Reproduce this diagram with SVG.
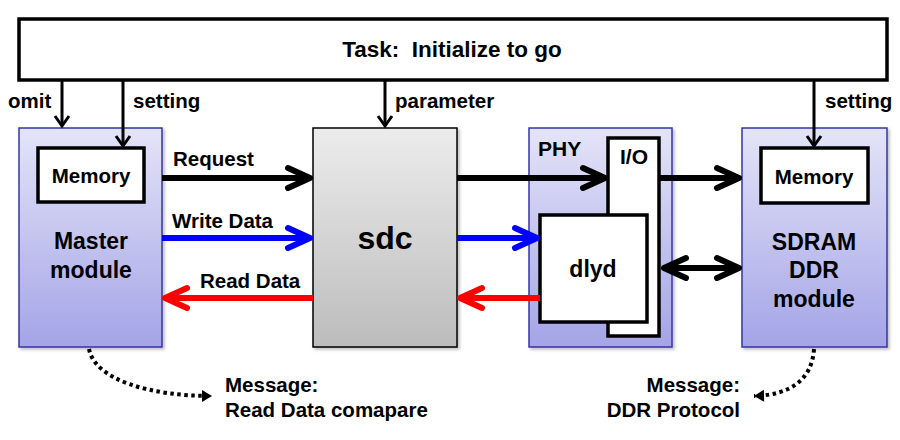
<svg xmlns="http://www.w3.org/2000/svg" width="900" height="440" viewBox="0 0 900 440">
<defs>
<linearGradient id="gBlue" x1="0" y1="0" x2="0" y2="1">
<stop offset="0" stop-color="#e4e4f8"/>
<stop offset="1" stop-color="#a4a4e7"/>
</linearGradient>
<linearGradient id="gGray" x1="0" y1="0" x2="0" y2="1">
<stop offset="0" stop-color="#ececec"/>
<stop offset="1" stop-color="#bcbcbc"/>
</linearGradient>
<filter id="sh" x="-10%" y="-10%" width="130%" height="130%">
<feDropShadow dx="2" dy="2" stdDeviation="1.5" flood-color="#000" flood-opacity="0.25"/>
</filter>
<marker id="vThin" markerUnits="userSpaceOnUse" viewBox="-14 -10 18 20" refX="0" refY="0" markerWidth="18" markerHeight="20" orient="auto" overflow="visible">
<path d="M-10,-7 L0,0 L-10,7" fill="none" stroke="#000" stroke-width="3"/>
</marker>
<marker id="vBlack" markerUnits="userSpaceOnUse" viewBox="-30 -15 36 30" refX="0" refY="0" markerWidth="36" markerHeight="30" orient="auto-start-reverse" overflow="visible">
<path d="M-22,-10 L0,0 L-22,10" fill="none" stroke="#000" stroke-width="6" stroke-linecap="round" stroke-linejoin="round"/>
</marker>
<marker id="vBlue" markerUnits="userSpaceOnUse" viewBox="-30 -15 36 30" refX="0" refY="0" markerWidth="36" markerHeight="30" orient="auto" overflow="visible">
<path d="M-22,-10 L0,0 L-22,10" fill="none" stroke="#0000ff" stroke-width="6" stroke-linecap="round" stroke-linejoin="round"/>
</marker>
<marker id="vRed" markerUnits="userSpaceOnUse" viewBox="-30 -15 36 30" refX="0" refY="0" markerWidth="36" markerHeight="30" orient="auto" overflow="visible">
<path d="M-22,-10 L0,0 L-22,10" fill="none" stroke="#ff0000" stroke-width="6" stroke-linecap="round" stroke-linejoin="round"/>
</marker>
<marker id="tri" markerUnits="userSpaceOnUse" viewBox="-12 -8 14 16" refX="0" refY="0" markerWidth="14" markerHeight="16" orient="auto" overflow="visible">
<path d="M-10,-6 L0,0 L-10,6 Z" fill="#000"/>
</marker>
</defs>
<style>
text{font-family:"Liberation Sans",Arial,sans-serif;font-weight:bold;fill:#000}
.lbl{font-size:20.5px}
.big{font-size:23px;text-anchor:middle}
.mod{fill:url(#gBlue);stroke:#3434a6;stroke-width:1.5;filter:url(#sh)}
.box{fill:#fff;stroke:#000;stroke-width:3.5}
.thin{stroke:#000;stroke-width:3;fill:none;marker-end:url(#vThin)}
.thick{stroke-width:6;fill:none}
.dot{stroke:#000;stroke-width:4;fill:none;stroke-dasharray:3.5 3.5;marker-end:url(#tri)}
</style>
<rect width="900" height="440" fill="#fff"/>

<g id="task">
<rect x="19" y="19" width="868" height="61" fill="#fff" stroke="#000" stroke-width="3.5"/>
<text x="452" y="57" font-size="22.5" text-anchor="middle" xml:space="preserve">Task:  Initialize to go</text>
</g>

<g id="master">
<rect class="mod" x="19" y="128" width="143" height="219"/>
<text class="big" x="91" y="249">Master</text>
<text class="big" x="91" y="278">module</text>
</g>
<g id="master-memory">
<rect class="box" x="38" y="148" width="106" height="54"/>
<text class="lbl" x="91" y="183" text-anchor="middle">Memory</text>
</g>

<g id="sdc">
<rect x="313" y="128" width="144" height="219" fill="url(#gGray)" stroke="#000" stroke-width="1.5" filter="url(#sh)"/>
<text x="385" y="249" font-size="32" text-anchor="middle">sdc</text>
</g>

<g id="phy">
<rect class="mod" x="529" y="128" width="143" height="219"/>
<text x="538" y="156" font-size="21">PHY</text>
</g>
<g id="io">
<rect class="box" x="608" y="138" width="51" height="198"/>
<text x="634" y="164" font-size="21" text-anchor="middle">I/O</text>
</g>
<g id="dlyd">
<rect class="box" x="540" y="215" width="107" height="107"/>
<text class="big" x="593" y="277">dlyd</text>
</g>

<g id="sdram">
<rect class="mod" x="742" y="128" width="145" height="219"/>
<text class="big" x="814" y="250">SDRAM</text>
<text class="big" x="814" y="278">DDR</text>
<text class="big" x="814" y="307">module</text>
</g>
<g id="sdram-memory">
<rect class="box" x="761" y="148" width="107" height="55"/>
<text class="lbl" x="814" y="184" text-anchor="middle">Memory</text>
</g>

<g id="connectors">
<path class="thin" d="M62,80 V126"/>
<path class="thin" d="M123,80 V146"/>
<path class="thin" d="M385,80 V126"/>
<path class="thin" d="M814,80 V146"/>

<path class="thick" stroke="#000" marker-end="url(#vBlack)" d="M162,178 H310"/>
<path class="thick" stroke="#0000ff" marker-end="url(#vBlue)" d="M162,238 H310"/>
<path class="thick" stroke="#ff0000" marker-end="url(#vRed)" d="M313,298 H165"/>

<path class="thick" stroke="#000" marker-end="url(#vBlack)" d="M457,178 H605"/>
<path class="thick" stroke="#0000ff" marker-end="url(#vBlue)" d="M457,238 H537"/>
<path class="thick" stroke="#ff0000" marker-end="url(#vRed)" d="M540,298 H460"/>

<path class="thick" stroke="#000" marker-end="url(#vBlack)" d="M659,178 H739"/>
<path class="thick" stroke="#000" marker-start="url(#vBlack)" marker-end="url(#vBlack)" d="M664,268 H739"/>

<path class="dot" d="M89,349 C95,380 150,396 212,396"/>
<path class="dot" d="M814,349 C812,380 790,395 754,396"/>
</g>

<g id="labels">
<text class="lbl" x="8" y="108">omit</text>
<text class="lbl" x="133" y="108">setting</text>
<text class="lbl" x="395" y="108">parameter</text>
<text class="lbl" x="825" y="108">setting</text>
<text class="lbl" x="173" y="166">Request</text>
<text class="lbl" x="172" y="228">Write Data</text>
<text class="lbl" x="200" y="288">Read Data</text>
<text class="lbl" x="225" y="392">Message:</text>
<text class="lbl" x="225" y="417">Read Data comapare</text>
<text class="lbl" x="740" y="392" text-anchor="end">Message:</text>
<text class="lbl" x="740" y="417" text-anchor="end">DDR Protocol</text>
</g>
</svg>
